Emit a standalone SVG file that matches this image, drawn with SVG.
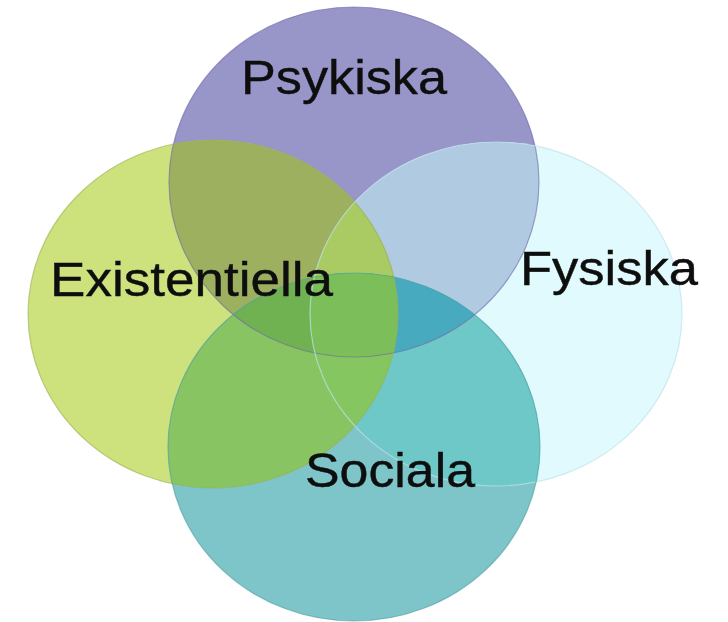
<svg xmlns="http://www.w3.org/2000/svg" xmlns:xlink="http://www.w3.org/1999/xlink" width="728" height="622" viewBox="0 0 728 622">
  <style>
    .lbl { font-family: "Liberation Sans", Arial, sans-serif; font-size: 48px; fill: #0E0E0E; stroke: #0E0E0E; stroke-width: 0.4; }
    .edge { fill: none; stroke-width: 1.2; }
  </style>
  <defs>
    <ellipse id="eP" cx="354" cy="182" rx="185" ry="175"/>
    <ellipse id="eG" cx="213" cy="314" rx="185" ry="174"/>
    <ellipse id="eC" cx="496" cy="314" rx="186" ry="172"/>
    <ellipse id="eT" cx="354" cy="447" rx="186" ry="174"/>
    <clipPath id="cP"><use xlink:href="#eP"/></clipPath>
    <clipPath id="cG"><use xlink:href="#eG"/></clipPath>
    <clipPath id="cC"><use xlink:href="#eC"/></clipPath>
    <clipPath id="cT"><use xlink:href="#eT"/></clipPath>
  </defs>
  <rect width="728" height="622" fill="#ffffff"/>

  <!-- base shapes -->
  <g id="node-psykiska-shape"><use xlink:href="#eP" fill="#9895C9"/></g>
  <g id="node-existentiella-shape"><use xlink:href="#eG" fill="#CDE17D"/></g>
  <g id="node-fysiska-shape"><use xlink:href="#eC" fill="#E1FAFD"/></g>
  <g id="node-sociala-shape"><use xlink:href="#eT" fill="#7DC5C8"/></g>

  <!-- overlaps -->
  <g id="overlaps">
    <g clip-path="url(#cP)"><use xlink:href="#eG" fill="#9DB060"/></g>
    <g clip-path="url(#cP)"><use xlink:href="#eC" fill="#B0CAE1"/></g>
    <g clip-path="url(#cP)"><use xlink:href="#eT" fill="#5EA8A0"/></g>
    <g clip-path="url(#cG)"><use xlink:href="#eC" fill="#A0C864"/></g>
    <g clip-path="url(#cG)"><use xlink:href="#eT" fill="#89C462"/></g>
    <g clip-path="url(#cC)"><use xlink:href="#eT" fill="#6EC8C8"/></g>
    <g clip-path="url(#cP)"><g clip-path="url(#cG)"><use xlink:href="#eC" fill="#AACB64"/></g></g>
    <g clip-path="url(#cP)"><g clip-path="url(#cG)"><use xlink:href="#eT" fill="#70B252"/></g></g>
    <g clip-path="url(#cP)"><g clip-path="url(#cC)"><use xlink:href="#eT" fill="#48AABE"/></g></g>
    <g clip-path="url(#cG)"><g clip-path="url(#cC)"><use xlink:href="#eT" fill="#86C660"/></g></g>
    <g clip-path="url(#cP)"><g clip-path="url(#cG)"><g clip-path="url(#cC)"><use xlink:href="#eT" fill="#7BBE5A"/></g></g></g>
  </g>

  <!-- outlines -->
  <g id="outlines">
    <use xlink:href="#eP" class="edge" stroke="#6E6BA8" stroke-opacity="0.6"/>
    <use xlink:href="#eG" class="edge" stroke="#9AB050" stroke-opacity="0.6"/>
    <use xlink:href="#eC" class="edge" stroke="#BFE3E8" stroke-opacity="0.7"/>
    <use xlink:href="#eT" class="edge" stroke="#4E9EA2" stroke-opacity="0.6"/>
  </g>

  <!-- labels -->
  <g id="node-psykiska"><text class="lbl" x="241" y="94" textLength="206" lengthAdjust="spacingAndGlyphs">Psykiska</text></g>
  <g id="node-existentiella"><text class="lbl" x="50" y="296" textLength="283" lengthAdjust="spacingAndGlyphs">Existentiella</text></g>
  <g id="node-fysiska"><text class="lbl" x="520" y="285" textLength="178" lengthAdjust="spacingAndGlyphs">Fysiska</text></g>
  <g id="node-sociala"><text class="lbl" x="305" y="487" textLength="170" lengthAdjust="spacingAndGlyphs">Sociala</text></g>
</svg>
